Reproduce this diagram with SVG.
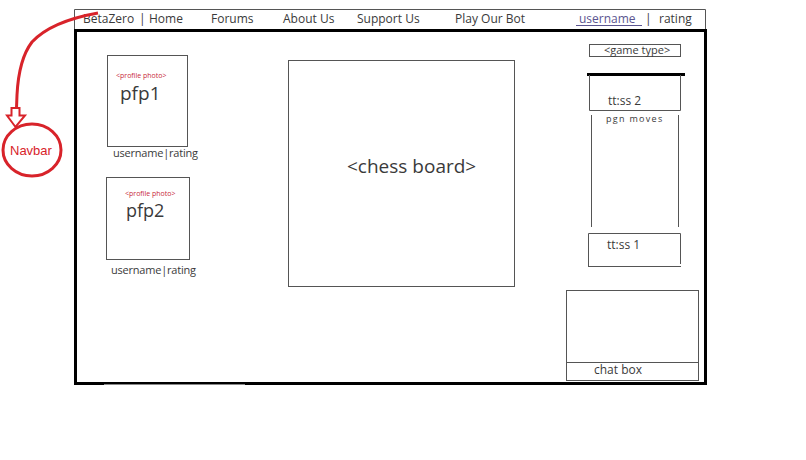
<svg xmlns="http://www.w3.org/2000/svg" width="806" height="460" viewBox="0 0 806 460">
<style>
.t{font-family:"Open Sans","Noto Sans",sans-serif;fill:#3a3a3a}
.nav{font-size:12px}
.thin{fill:none;stroke:#555;stroke-width:1}
.thick{fill:none;stroke:#000;stroke-width:3}
.red{fill:none;stroke:#d8232a;stroke-width:3}
.pp{font-family:"Open Sans","Noto Sans",sans-serif;font-size:7px;fill:#c8283c}
</style>
<rect width="806" height="460" fill="#fff"/>
<g id="navbar">
<path class="thin" d="M74.5 30V9.5H705.5V30"/>
<line class="thick" x1="74" y1="30.5" x2="707" y2="30.5"/>
<text class="t nav" x="83" y="23">BetaZero</text>
<text class="t nav" x="139" y="23">|</text>
<text class="t nav" x="149" y="23">Home</text>
<text class="t nav" x="211" y="23">Forums</text>
<text class="t nav" x="283" y="23">About Us</text>
<text class="t nav" x="357" y="23">Support Us</text>
<text class="t nav" x="455" y="23">Play Our Bot</text>
<text class="t nav" x="579" y="23" style="fill:#5b5590">username</text>
<line x1="576" y1="25.5" x2="642" y2="25.5" stroke="#5b5590" stroke-width="1"/>
<text class="t nav" x="645" y="23">|</text>
<text class="t nav" x="659" y="23">rating</text>
</g>
<g id="frame">
<path class="thick" d="M75.5 30V383.5H705.5V30"/>
<line x1="104" y1="384.5" x2="245" y2="384.5" stroke="#888" stroke-width="1"/>
</g>
<g id="player1">
<rect class="thin" x="107.5" y="55.5" width="80" height="91"/>
<text class="pp" x="116" y="78">&lt;profile photo&gt;</text>
<text class="t" x="120" y="100" font-size="19">pfp1</text>
<text class="t" x="113" y="157" font-size="11" textLength="85">username|rating</text>
</g>
<g id="player2">
<rect class="thin" x="106.5" y="177.5" width="83" height="82"/>
<text class="pp" x="125" y="196">&lt;profile photo&gt;</text>
<text class="t" x="126" y="217" font-size="18">pfp2</text>
<text class="t" x="111" y="274" font-size="11" textLength="85">username|rating</text>
</g>
<g id="chess-board">
<rect class="thin" x="288.5" y="60.5" width="226" height="226"/>
<text class="t" x="347" y="173" font-size="19">&lt;chess board&gt;</text>
</g>
<g id="game-type">
<rect class="thin" x="589.5" y="44.5" width="91" height="12"/>
<text class="t" x="604" y="54" font-size="11">&lt;game type&gt;</text>
</g>
<g id="timer2">
<line class="thick" x1="587" y1="74.5" x2="685" y2="74.5"/>
<path class="thin" d="M589.5 75V110.5H680.5V75"/>
<text class="t" x="608" y="105" font-size="12">tt:ss 2</text>
</g>
<g id="pgn-moves">
<path class="thin" d="M591.5 115V227M678.5 115V227"/>
<text class="t" x="606" y="122" font-size="9" letter-spacing="1.3" fill="#444">pgn moves</text>
</g>
<g id="timer1">
<path class="thin" d="M588.5 266V233.5H680.5V264M588 266.5H681"/>
<text class="t" x="607" y="249" font-size="12">tt:ss 1</text>
</g>
<g id="chat-box">
<rect class="thin" x="566.5" y="290.5" width="132" height="90"/>
<line class="thin" x1="566" y1="362.5" x2="699" y2="362.5"/>
<text class="t" x="594" y="374" font-size="12">chat box</text>
</g>
<g id="navbar-label">
<path class="red" d="M98 13C70 18 45 28 32 42C22 55 18 75 17 95L16.5 108"/>
<path class="red" style="stroke-width:2" d="M11.5 108H19.5V115.5H25L15.5 127L7 115.5H11.5Z"/>
<ellipse class="red" cx="32" cy="150" rx="29" ry="26"/>
<text x="10" y="155" font-family="Liberation Sans, Arial, sans-serif" font-size="13" fill="#d8232a">Navbar</text>
</g>
</svg>
